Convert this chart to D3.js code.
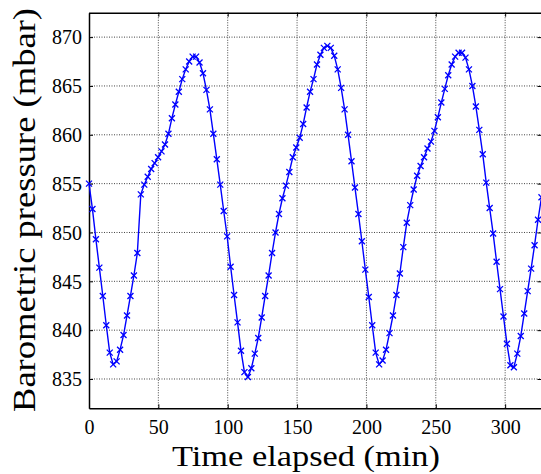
<script src="https://d3js.org/d3.v7.min.js"></script>
<style>
  body { margin: 0; background: #fff; }
  text { font-family: "Liberation Serif", "Times New Roman", serif; fill: #000; }
</style>
<body>
<svg id="frame"></svg>
</body>
<script>
  // sampling interval of the logger (min)
  var sampleStep = 2.49;
  // barometric pressure (mbar), one reading per sample
  var pressure = [
    855.0, 852.4, 849.3, 846.4, 843.5, 840.5, 837.7, 836.5, 836.8, 838.0,
    839.5, 841.5, 843.5, 845.6, 847.9, 853.9, 854.9, 855.7, 856.5, 857.1,
    857.7, 858.3, 859.0, 860.1, 861.7, 863.1, 864.4, 865.7, 866.7, 867.5,
    868.0, 868.0, 867.4, 866.3, 864.6, 862.6, 860.1, 857.5, 854.9, 852.2,
    849.6, 846.5, 843.6, 840.8, 837.9, 835.7, 835.2, 836.1, 837.6, 839.2,
    841.3, 843.5, 845.6, 847.9, 850.0, 851.9, 853.5, 854.8, 856.2, 857.7,
    858.7, 859.7, 861.1, 862.8, 864.4, 865.7, 867.2, 868.2, 868.9, 869.1,
    868.9, 868.1, 866.7, 864.8, 862.6, 860.0, 857.3, 854.6, 851.9, 849.1,
    846.2, 843.4, 840.5, 837.7, 836.5, 836.9, 838.0, 839.7, 841.5, 843.6,
    845.8, 848.5, 851.0, 852.8, 854.4, 855.8, 856.8, 857.7, 858.6, 859.3,
    860.4, 861.8, 863.3, 864.7, 866.1, 867.2, 868.0, 868.4, 868.4, 867.9,
    866.7, 865.0, 862.9, 860.5, 858.0, 855.1, 852.5, 849.9, 847.0, 844.2,
    841.4, 838.6, 836.4, 836.2, 837.6, 839.4, 841.7, 844.0, 846.3, 848.7,
    851.3, 853.6
  ];
  var xTicks = [0, 50, 100, 150, 200, 250, 300];
  var yTicks = [835, 840, 845, 850, 855, 860, 865, 870];
  var xLimits = [0, 326.2];
  var yLimits = [832, 872.5];

  var width = 541, height = 474;
  var margin = {top: 12.7, right: 0, bottom: 65.7, left: 89};

  var svg = d3.select('#frame')
    .attr('width', width)
    .attr('height', height);

  var x = d3.scaleLinear().domain(xLimits).range([margin.left, width + 0.5]);
  var y = d3.scaleLinear().domain(yLimits).range([height - margin.bottom, margin.top]);

  var data = pressure.map(function(p, i) { return [i * sampleStep, p]; });

  // grid (dotted)
  var grid = svg.append('g');
  grid.selectAll('.gx')
    .data(xTicks.filter(function(d){ return d > 0; }))
    .enter().append('line')
    .attr('x1', function(d){ return x(d); })
    .attr('x2', function(d){ return x(d); })
    .attr('y1', y(yLimits[0]))
    .attr('y2', y(yLimits[1]))
    .attr('stroke', '#444')
    .attr('stroke-width', 1)
    .attr('stroke-dasharray', '1,1.5');
  grid.selectAll('.gy')
    .data(yTicks)
    .enter().append('line')
    .attr('x1', x(xLimits[0]))
    .attr('x2', x(xLimits[1]))
    .attr('y1', function(d){ return y(d); })
    .attr('y2', function(d){ return y(d); })
    .attr('stroke', '#444')
    .attr('stroke-width', 1)
    .attr('stroke-dasharray', '1,1.5');

  // axes, MATLAB style: inward ticks on all four sides
  var axBottom = svg.append('g')
    .attr('transform', 'translate(0,' + y(yLimits[0]) + ')')
    .call(d3.axisBottom(x).tickValues(xTicks).tickSizeInner(-4).tickSizeOuter(0).tickPadding(12));
  var axTop = svg.append('g')
    .attr('transform', 'translate(0,' + y(yLimits[1]) + ')')
    .call(d3.axisTop(x).tickValues(xTicks).tickSizeInner(-4).tickSizeOuter(0).tickFormat(''));
  var axLeft = svg.append('g')
    .attr('transform', 'translate(' + x(xLimits[0]) + ',0)')
    .call(d3.axisLeft(y).tickValues(yTicks).tickSizeInner(-4).tickSizeOuter(0).tickPadding(7));
  var axRight = svg.append('g')
    .attr('transform', 'translate(' + x(xLimits[1]) + ',0)')
    .call(d3.axisRight(y).tickValues(yTicks).tickSizeInner(-4).tickSizeOuter(0).tickFormat(''));

  [axBottom, axTop, axLeft, axRight].forEach(function(a) {
    a.select('.domain').attr('stroke', '#000').attr('stroke-width', 1.5);
    a.selectAll('.tick line').attr('stroke', '#000').attr('stroke-width', 1);
    a.selectAll('.tick text')
      .style('font-family', '"Liberation Serif", serif')
      .style('font-size', '20px')
      .attr('fill', '#000');
  });
  axBottom.selectAll('.tick text').attr('dy', '0.71em');
  axLeft.selectAll('.tick text').attr('dy', '0.34em');

  // series
  var line = d3.line()
    .x(function(d){ return x(d[0]); })
    .y(function(d){ return y(d[1]); });

  var plot = svg.append('g');
  plot.append('path')
    .datum(data)
    .attr('d', line)
    .attr('fill', 'none')
    .attr('stroke', '#0000ff')
    .attr('stroke-width', 1.4);

  var s = 3;
  plot.selectAll('.mk')
    .data(data)
    .enter().append('path')
    .attr('d', function(d){
      var cx = x(d[0]), cy = y(d[1]);
      return 'M' + (cx - s) + ',' + (cy - s) + 'L' + (cx + s) + ',' + (cy + s) +
             'M' + (cx - s) + ',' + (cy + s) + 'L' + (cx + s) + ',' + (cy - s);
    })
    .attr('stroke', '#0000ff')
    .attr('stroke-width', 1.3)
    .attr('fill', 'none');

  // labels
  svg.append('text')
    .attr('x', 306)
    .attr('y', 466)
    .attr('text-anchor', 'middle')
    .attr('textLength', 268)
    .attr('lengthAdjust', 'spacingAndGlyphs')
    .style('font-size', '30px')
    .text('Time elapsed (min)');

  svg.append('text')
    .attr('transform', 'translate(35,210) rotate(-90)')
    .attr('text-anchor', 'middle')
    .attr('textLength', 404)
    .attr('lengthAdjust', 'spacingAndGlyphs')
    .style('font-size', '32px')
    .text('Barometric pressure (mbar)');
</script>
